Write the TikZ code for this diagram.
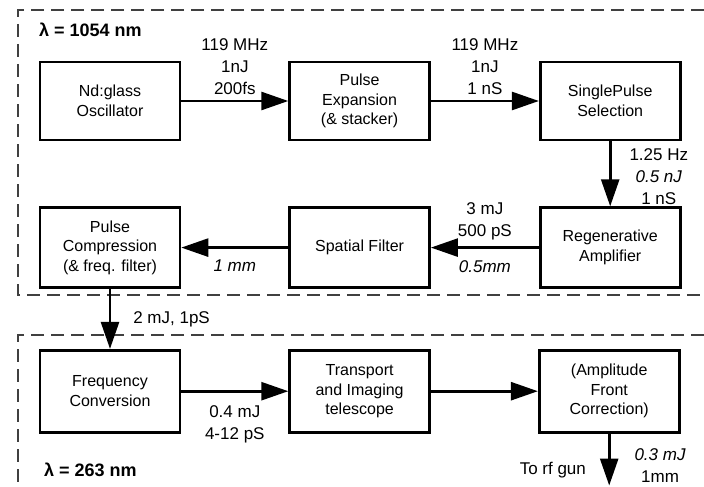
\documentclass[tikz,border=0pt]{standalone}
\usepackage{fontspec}
\setmainfont{Liberation Sans}
\usepackage{tikz}
\usetikzlibrary{arrows.meta, positioning}

\begin{document}
\begin{tikzpicture}[x=1pt, y=1pt,
    block/.style={rectangle, draw, line width=2.6pt, minimum width=140pt, minimum height=80pt, align=center, inner sep=2pt, font=\fontsize{16}{19.5}\selectfont},
    flow/.style={-{Triangle[length=27pt, width=18pt]}, line width=2.6pt},
    info/.style={align=center, inner sep=2pt, font=\fontsize{17}{22}\selectfont},
    tag/.style={anchor=west, inner sep=0pt, font=\fontsize{18}{20}\selectfont\bfseries},
    region/.style={dash pattern=on 13pt off 7pt, line width=1.1pt, black!75}]
\useasboundingbox (0,0) rectangle (704,-487);

% dashed frames (right edges lie outside the page)
\draw[region] (704,-10) -| (18,-295) -- (704,-295);
\draw[region] (704,-335) -| (18,-487);

\node[tag] (ir) at (39,-30) {λ = 1054 nm};
\node[tag] (uv) at (44,-470) {λ = 263 nm};

\node[block, minimum height=78pt] (osc) at (110,-101) {Nd:glass\\Oscillator};
\node[block, minimum height=78pt] (expand) [right=107pt of osc] {Pulse\\Expansion\\(\& stacker)};
\node[block, minimum height=78pt] (single) [right=108pt of expand] {SinglePulse\\Selection};
\node[block] (regen) [below=65pt of single] {Regenerative\\Amplifier};
\node[block] (spatial) [left=108pt of regen] {Spatial Filter};
\node[block] (compress) [left=107pt of spatial] {Pulse\\Compression\\(\& freq. filter)};
\node[block, minimum height=82pt] (freq) [below=60pt of compress] {Frequency\\Conversion};
\node[block, minimum height=82pt] (transport) [right=107pt of freq] {Transport\\and Imaging\\telescope};
\node[block, minimum height=82pt] (afc) [right=107pt of transport] {(Amplitude\\Front\\Correction)};
\coordinate[below=52pt of afc] (gun);

\draw[flow] (osc) -- node[info, above, yshift=3pt] {119 MHz\\1nJ\\200fs} (expand);
\draw[flow] (expand) -- node[info, above, yshift=3pt] {119 MHz\\1nJ\\1 nS} (single);
\draw[flow] (single) -- node[info, right, xshift=16pt, yshift=-3pt] {1.25 Hz\\\textit{0.5 nJ}\\1 nS} (regen);
\draw[flow] (regen) -- node[info, above, yshift=4pt] {3 mJ\\500 pS} node[info, below, yshift=-10pt] {\textit{0.5mm}} (spatial);
\draw[flow] (spatial) -- node[info, below, yshift=-9pt] {\textit{1 mm}} (compress);
\draw[flow] (compress) -- node[info, right, xshift=20pt] {2 mJ, 1pS} (freq);
\draw[flow] (freq) -- node[info, below, yshift=-11pt] {0.4 mJ\\4-12 pS} (transport);
\draw[flow] (transport) -- (afc);
\draw[flow] (afc) -- node[info, left, pos=0.7, xshift=-20pt] {To rf gun} node[info, right, pos=0.62, xshift=22pt] {\textit{0.3 mJ}\\1mm} (gun);
\end{tikzpicture}
\end{document}
